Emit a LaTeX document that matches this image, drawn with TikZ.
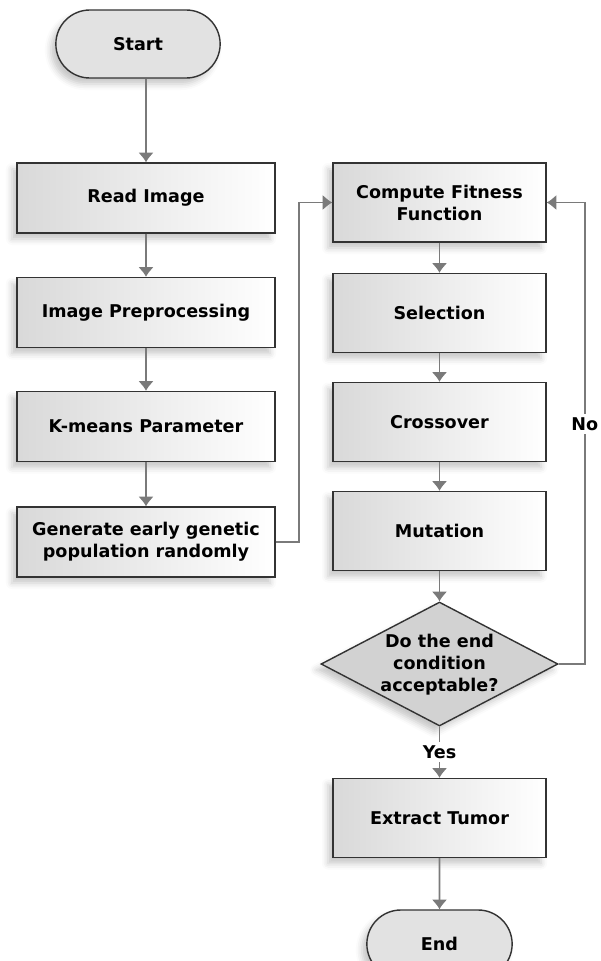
\documentclass[tikz,border=0pt]{standalone}
\usepackage{fontspec}
\setmainfont{DejaVu Sans}
\usepackage{tikz}
\definecolor{linegray}{HTML}{7A7A7A}
\definecolor{boxedge}{HTML}{333333}
\definecolor{termfill}{HTML}{E2E2E2}
\definecolor{decfill}{HTML}{D2D2D2}
\usetikzlibrary{arrows.meta,shapes,positioning,shadows,shadows.blur,calc}

\tikzset{
  softshadow/.style={blur shadow={shadow xshift=-0.1cm, shadow yshift=-0.12cm, shadow blur radius=0.12cm, shadow opacity=22}},
  boxfont/.style={font=\fontsize{10}{12.5}\selectfont\bfseries},
  procbox/.style={rectangle, draw=boxedge, line width=0.8pt, left color=gray!30, right color=white, align=center, boxfont, softshadow},
  leftbox/.style={procbox, minimum width=5.16cm, minimum height=1.4cm},
  rightbox/.style={procbox, minimum width=4.26cm, minimum height=1.58cm},
  termbox/.style={rounded rectangle, draw=boxedge, line width=0.8pt, fill=termfill, boxfont, softshadow},
  condbox/.style={diamond, draw=boxedge, line width=0.8pt, fill=decfill, minimum width=4.74cm, minimum height=2.48cm, inner sep=0pt, softshadow},
  flow/.style={draw=linegray, line width=1.1pt, >={Latex[width=9pt,length=5.5pt]}},
  answer/.style={fill=white, inner sep=2pt, boxfont}
}

\begin{document}
\begin{tikzpicture}
    \useasboundingbox (0,0) rectangle (12,-19.22);

    % left column
    \node[termbox, minimum width=3.52cm, minimum height=1.36cm] (start) at (2.76,-0.88) {Start};
    \node[leftbox] (read) at (2.92,-3.96) {Read Image};
    \node[leftbox] (preproc) at (2.92,-6.25) {Image Preprocessing};
    \node[leftbox] (kmeans) at (2.92,-8.53) {K-means Parameter};
    \node[leftbox] (generate) at (2.92,-10.84) {Generate early genetic\\population randomly};

    % right column
    \node[rightbox] (fitness) at (8.79,-4.05) {Compute Fitness\\Function};
    \node[rightbox] (selection) at (8.79,-6.26) {Selection};
    \node[rightbox] (crossover) at (8.79,-8.44) {Crossover};
    \node[rightbox] (mutation) at (8.79,-10.62) {Mutation};
    \node[condbox, label={[align=center, boxfont, yshift=-0.02cm]center:Do the end\\condition\\acceptable?}] (cond) at (8.79,-13.28) {};
    \node[rightbox] (extract) at (8.79,-16.36) {Extract Tumor};
    \node[termbox, minimum width=3.14cm, minimum height=1.36cm] (stop) at (8.79,-18.88) {End};

    \draw[flow,->] (start.south -| read.north) -- (read.north);
    \draw[flow,->] (read) -- (preproc);
    \draw[flow,->] (preproc) -- (kmeans);
    \draw[flow,->] (kmeans) -- (generate);

    \coordinate (gbend) at ($(generate.east)+(0.46,0)$);
    \draw[flow,->] (generate.east) -- (gbend) |- (fitness.west);

    \draw[flow,->] (fitness) -- (selection);
    \draw[flow,->] (selection) -- (crossover);
    \draw[flow,->] (crossover) -- (mutation);
    \draw[flow,->] (mutation) -- (cond.north);

    \coordinate (nobend) at ($(cond.east)+(0.52,0)$);
    \draw[flow,->] (cond.east) -- (nobend) |- node[answer, pos=0.26] (no) {No} (fitness.east);
    \draw[flow,->] (cond.south) -- node[answer] (yes) {Yes} (extract.north);
    \draw[flow,->] (extract) -- (stop);
\end{tikzpicture}
\end{document}
